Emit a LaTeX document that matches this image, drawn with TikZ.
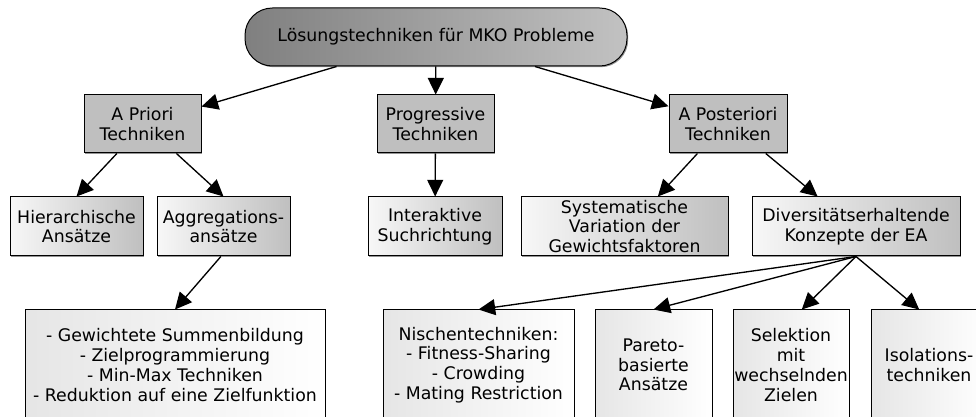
\documentclass[tikz,border=0pt]{standalone}
\usepackage{fontspec}
\setmainfont{DejaVu Sans}
\usetikzlibrary{arrows.meta,shadows}
\begin{document}
\begin{tikzpicture}[x=0.75pt,y=-0.75pt,
  font=\fontsize{13}{14.8}\selectfont,
  base/.style={draw=black, line width=0.75pt, align=center, inner sep=0pt,
    drop shadow={shadow xshift=0.9pt, shadow yshift=-0.9pt, fill=black!60, opacity=0.7}},
  topbox/.style={base, rounded corners=20.5pt, left color=black!50, right color=black!24,
    minimum width=286.5pt, minimum height=43.5pt},
  levelone/.style={base, fill=black!25, minimum height=43.5pt},
  leveltwo/.style={base, left color=black!3, right color=black!25, minimum height=44.25pt},
  levelthree/.style={base, left color=black!10, right color=white, minimum height=82.5pt},
  arr/.style={line width=1pt, -{Triangle[length=12.5pt,width=12pt]}}
]
\useasboundingbox (0,0) rectangle (976,417);
\clip (0,0) rectangle (976,417);

\node[topbox] (top) at (436,37) {Lösungstechniken für MKO Probleme};

\node[levelone, minimum width=87.75pt] (apriori) at (142.5,124) {A Priori\\Techniken};
\node[levelone, minimum width=87.75pt] (prog) at (435.5,124) {Progressive\\Techniken};
\node[levelone, minimum width=88.5pt] (apost) at (728,124) {A Posteriori\\Techniken};

\node[leveltwo, minimum width=99.75pt] (hier) at (76.5,226.5) {Hierarchische\\Ansätze};
\node[leveltwo, minimum width=99.75pt] (aggr) at (223.5,226.5) {Aggregations-\\ansätze};
\node[leveltwo, minimum width=100.5pt] (inter) at (435,226.5) {Interaktive\\Suchrichtung};
\node[leveltwo, minimum width=155.25pt] (syst) at (624.5,226.5) {Systematische\\Variation der\\Gewichtsfaktoren};
\node[leveltwo, minimum width=156pt] (div) at (856,226.5) {Diversitätserhaltende\\Konzepte der EA};

\node[levelthree, minimum width=225pt] (reduk) at (175,365) {- Gewichtete Summenbildung\\- Zielprogrammierung\\- Min-Max Techniken\\- Reduktion auf eine Zielfunktion};
\node[levelthree, minimum width=143.25pt] (nisch) at (478.5,365) {Nischentechniken:\\- Fitness-Sharing\\- Crowding\\- Mating Restriction};
\node[levelthree, minimum width=87.75pt] (pareto) at (653.5,365) {Pareto-\\basierte\\Ansätze};
\node[levelthree, minimum width=87pt] (sel) at (791,365) {Selektion\\mit\\wechselnden\\Zielen};
\node[levelthree, minimum width=87pt] (iso) at (929,365) {Isolations-\\techniken};

\draw[arr] (top) -- (apriori);
\draw[arr] (top) -- (prog);
\draw[arr] (top) -- (apost);
\draw[arr] (apriori.229) -- (hier.north);
\draw[arr] (apriori.319) -- (aggr.north);
\draw[arr] (prog) -- (inter);
\draw[arr] (apost.224) -- (syst.42);
\draw[arr] (apost.322) -- (div.142);
\draw[arr] (aggr.265) -- (reduk.north);
\draw[arr] (div.south) -- (nisch.north);
\draw[arr] (div.south) -- (pareto.north);
\draw[arr] (div.south) -- (sel.79);
\draw[arr] (div.south) -- (iso.100);
\end{tikzpicture}
\end{document}
